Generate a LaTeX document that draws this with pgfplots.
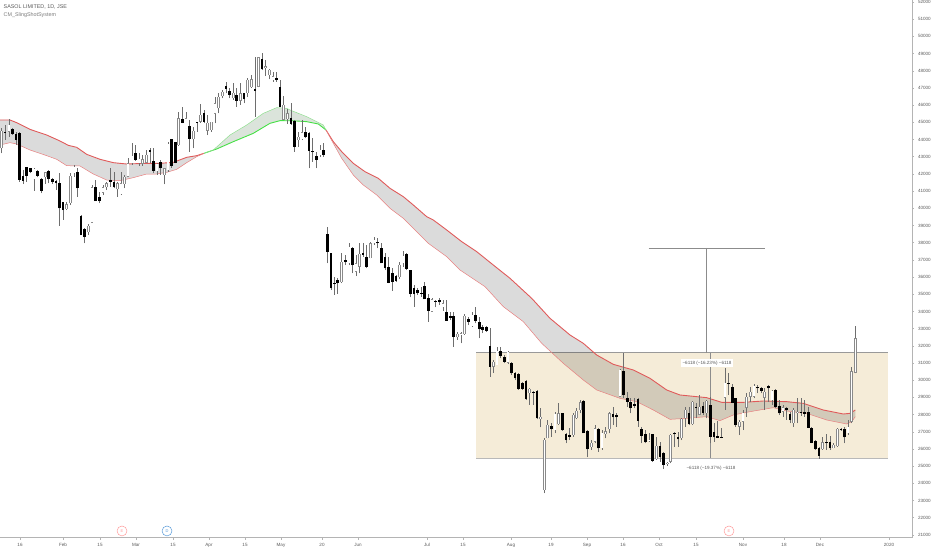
\documentclass[border=0pt]{standalone}
\usepackage{fontspec}
\setmainfont{Liberation Sans}
\usepackage{pgfplots}
\usepackage{pgfplotstable}
\pgfplotsset{compat=1.18}

\definecolor{boxbg}{HTML}{F5ECD8}
\definecolor{redline}{HTML}{E05A5A}
\definecolor{redthin}{HTML}{E88080}
\definecolor{greenline}{HTML}{45E045}
\definecolor{greenthin}{HTML}{8FE08F}
\definecolor{axisgray}{HTML}{B4B4B4}
\definecolor{txt}{HTML}{5A5A5A}
\definecolor{wick}{HTML}{6E6E6E}
\definecolor{upbody}{HTML}{8A8A8A}

% rising days: x (position on the time axis) open high low close
\pgfplotstableread{
x o h l c
1.3 43490 44650 43200 44520
9 44460 45170 44170 44850
34 41680 42320 41020 42290
45.3 41800 42130 41410 42090
66.7 39960 40380 39900 40230
70.3 40290 42030 40190 41880
74 42030 42520 41840 42420
88.3 38600 39090 38440 38990
92 39160 41350 39160 41220
103 40910 41350 40770 41220
106.7 41220 41550 41060 41450
117.3 41100 41550 40680 41450
121 40810 42130 40770 41450
124.7 41410 41940 41160 41840
128 41840 42900 41840 42610
132 42610 43820 42520 43040
139 42610 43200 42480 42870
142.7 42580 43100 42480 42850
146.3 42650 43390 42610 43120
157 42170 42610 41940 42580
164.3 41940 42360 41390 42320
168 42230 43880 42130 43740
178.7 43680 45620 43640 45230
186 44650 45620 44650 45230
193.7 44010 44750 43490 44500
200.7 45040 46050 44980 45430
207.7 44520 45430 44260 44980
211.3 44550 45040 44460 45040
215 45490 46490 44940 46110
218.7 45810 46690 45520 46490
222.3 46530 46880 46400 46780
233.3 46400 47270 46300 46730
240.3 46260 47270 46010 46690
247.7 46690 47560 46490 47460
251.3 47040 47750 46980 47500
258.3 47070 48820 47040 48780
265.7 48140 48630 47690 48270
269.3 47750 48080 47500 48040
273 47460 47950 47370 47690
283.7 45140 46550 45140 46010
287.3 45180 45760 44900 45520
298.3 43970 44460 43580 44160
302 44030 45130 43970 44420
320 43100 43680 43000 43390
341.3 35690 37380 35630 36890
349 36800 37960 36700 37770
356 36310 37280 36060 36800
359.7 36600 37960 36220 37340
370.3 37090 38060 37090 37960
374 37960 38350 37860 38160
399.3 35980 36900 35870 36700
403 36800 37540 36600 37240
432 33990 34760 33990 34700
443 34240 34670 34040 34470
457.3 32490 32820 32340 32690
461 32670 32820 32140 32730
464.7 32690 33850 32630 33750
472 33150 33990 33080 33790
493.7 30790 31170 30440 31080
497 30880 31950 30880 31720
508 31020 31720 30940 31640
529.7 29240 29530 28560 29490
540.7 27740 28360 27260 27880
544.3 23610 26620 23420 26520
547.7 26620 27690 26620 27390
555 27100 28170 26910 28030
558.7 27450 28650 27390 28070
573.3 26810 28070 26720 27980
576.7 27780 28360 27720 28230
580.3 28270 28850 28070 28710
591.3 26100 26520 25940 26370
595 26420 27390 26330 27200
602 26040 27100 25940 26950
605.7 26870 27300 26620 27040
609.3 27140 28170 26910 28070
620 29040 30630 29040 30590
649 26440 26950 26420 26520
656.3 25400 26680 25360 26170
667.3 25120 25260 25010 25200
670.7 25260 26870 25160 26830
681.7 26620 27780 26520 27760
685.3 27780 28460 27300 28270
692.7 27450 28790 27390 28750
699.3 27980 29140 27980 28460
706.7 28070 28850 27780 28810
725 28980 30730 28270 29860
739.3 27300 27680 26810 27570
743 27590 28270 27100 28110
746.7 28400 29230 27880 29040
750.3 29040 29620 28750 29310
754 29040 29780 28940 29680
764.7 28980 29530 28270 29310
772 28850 29430 28560 29390
783 28170 28560 27880 28420
793.7 27490 28360 27300 28270
797.3 28070 28940 27490 28170
822.7 25980 26710 25940 26390
833.7 26060 26330 26040 26250
837.3 26170 27200 26130 27160
848 26910 27680 26810 27300
851.7 27590 30790 27490 30530
855.3 30440 33150 30400 32440
}\upc

% falling days
\pgfplotstableread{
x o h l c
5 44440 44850 43970 44360
12.7 44590 44650 44260 44320
16 44300 44460 43680 43970
19.7 44400 44440 41550 41650
23 41900 42230 41410 41610
26.7 42380 42420 41550 41880
30.3 42320 42360 42030 42110
37.7 42150 42230 41800 41880
41.7 41700 41740 40870 41020
48.7 42190 42230 41450 41680
52.3 41720 41780 41410 41530
56 41570 41650 41060 41450
59.7 41490 42030 38970 40000
63 40370 40380 39320 39900
77.7 42090 42360 40680 41160
81 39570 39610 38440 38440
84.7 38790 38830 37960 38350
95.7 41220 41650 40420 40420
99.3 40680 40970 40290 40420
110.3 41650 42320 41260 41550
114 41510 42130 41160 41220
135.3 43240 43680 42770 42810
150 43390 43530 42610 43270
153.3 42730 43490 42030 42190
160.7 42710 42810 41940 42320
171.7 44010 44010 42360 42460
175.3 43880 43880 42610 42650
182.3 45190 45870 44940 44980
189.7 44790 45140 43290 44050
197 45040 45040 44460 44980
204 45560 45720 44940 45040
226 47110 47370 46690 46960
229.7 46840 46980 46400 46590
236.7 46590 46980 45910 46260
244 46690 46690 46100 46340
255 46940 48820 45330 46840
262 48680 49010 48040 48080
276.3 47560 47950 47370 47460
280 47040 47460 45870 45870
291 45250 46110 44850 44900
294.7 45080 45130 43290 43580
305.3 44460 44750 44070 44130
309 44360 44420 42320 43350
312.7 43350 44070 42710 43290
316.3 43040 43290 42320 42810
323.3 43390 43780 43000 43100
327.3 38490 38930 36800 37480
331 37420 37420 35250 35340
334.3 35670 36020 34960 35600
337.7 35830 35930 35020 35630
345.3 36990 37280 36700 36860
352.3 37690 37770 36220 36700
363 37380 38000 37190 37300
366.7 37190 37860 36510 36600
377.7 38040 38250 37670 37960
381.3 37710 37960 36800 36800
385 37190 37380 36410 36510
388.7 36600 37190 35630 35670
392.3 36220 36510 35210 35730
396 36060 36120 35730 35790
406.7 37340 37380 36410 36470
410.3 36410 36410 34820 35010
414 35380 35540 34280 35010
417.7 35250 35340 34960 35050
421.3 35090 35440 34860 35010
424.7 35480 35690 34700 34700
428.3 34760 35010 33400 34040
435.7 34600 34670 34240 34570
439.3 34670 34760 34380 34530
446.7 33990 34670 33460 33460
450.3 33730 33990 33500 33640
453.7 33730 33990 31950 32530
468.3 33540 33690 33210 33400
475.7 33790 34240 33310 33440
479.3 33370 33690 32440 32960
482.7 33080 33210 32730 32920
486.3 33080 33150 32820 32880
490 31990 33020 30200 30790
500.7 31720 31950 31270 31430
504.3 31370 31470 30980 31080
511.3 30980 31080 30300 30400
515 30400 30500 30010 30110
518.7 30360 30400 29430 29470
522.3 29860 29920 29430 29490
526 29970 30010 28850 28890
533.3 29330 29390 28560 29270
537 29390 29430 27720 27780
551.3 27360 27490 26720 27140
562.3 28070 28110 27060 27100
566 26870 26910 26330 26520
569.7 26810 27200 26520 26720
583.7 28790 28850 26910 26910
587.7 27040 27100 25510 25980
598.3 27140 27200 25840 26030
613 28030 28460 27390 27840
616.7 27980 28070 27300 27840
623.7 30550 31560 28940 29140
627.3 28940 29330 28460 28750
630.7 28750 28940 28070 28360
634.3 28620 28940 28360 28520
638 28890 28940 27300 27650
641.7 27160 27300 26330 26770
645.3 26870 27100 26330 26390
652.7 26850 26870 25260 25320
660 26170 26420 25260 25550
663.7 25750 25840 24820 25070
674.3 26950 27010 26130 26850
678 26680 27010 26130 26560
689 28070 28460 27390 27430
696 28460 28650 27780 28360
703 28500 28750 27980 28110
710.3 28560 29040 26330 26710
714 26970 27490 26420 26680
717.7 26750 27630 26620 26640
721.3 26710 27200 26620 26660
728.7 29860 30400 29140 29780
732.3 29590 29780 28650 28690
735.7 28940 28940 27300 27390
757.7 29620 29720 29230 29530
761.3 29530 29620 29230 29370
768.3 29660 29720 28750 29530
775.7 29430 29470 28360 28420
779.3 28500 28850 27970 28070
786.3 28360 28460 27690 28270
790 28030 28170 27490 27680
801 28170 28980 27920 28070
804.7 28170 28850 27880 28030
808.3 28130 28460 27200 27240
811.7 27240 27300 26330 26370
815.3 26460 26520 25940 25980
819 26070 26130 25420 25610
826.3 26420 26850 25940 26330
830 26420 26750 25940 26040
841 27160 27200 27060 27100
844.3 27140 27300 26330 26680
}\dnc

\begin{document}
\begin{tikzpicture}
\begin{axis}[
	at={(0,0)}, anchor=south west,
	scale only axis, width=912bp, height=537.5bp,
	xmin=0, xmax=912, ymin=20850, ymax=52116,
	axis x line*=bottom, axis y line*=right,
	axis line style={axisgray, line width=1pt},
	xtick={20,63,100,136,173,209,245,281,322,358,427,463,511,551,587,623,659,696,743,784,820,889},
	xticklabels={16,Feb,15,Mar,15,Apr,15,May,20,Jun,Jul,15,Aug,19,Sep,16,Oct,15,Nov,18,Dec,2020},
	ytick distance=1000,
	scaled y ticks=false,
	tick align=outside, major tick length=2bp,
	tick style={axisgray, line width=0.5pt},
	/pgf/number format/assume math mode=true,
	/pgf/number format/set thousands separator={},
	ticklabel style={font=\fontsize{4.6}{5}\selectfont, text=txt},
	yticklabel style={xshift=0.5bp},
	xticklabel style={yshift=-0.5bp},
]
% range box
\addplot[fill=boxbg, draw=none, forget plot] coordinates {(476,31600)(887.7,31600)(887.7,25450)(476,25450)} -- cycle;
\addplot[gray!80, line width=0.6pt, forget plot] coordinates {(476,31600)(887.7,31600)};
\addplot[gray!55, line width=0.8pt, forget plot] coordinates {(476,25450)(887.7,25450)};

% bands between the two averages
\addplot[fill=black, fill opacity=0.14, draw=none] coordinates {(0,45136)(10,45136)(16.7,44980)(30,44590)(46.7,44263)(60,43914)(68.3,43662)(76.7,43546)(86.7,43138)(100,42848)(113.3,42654)(126.7,42576)(146.7,42615)(160,42615)(173.3,42673)(186.7,42964)(196.7,43061)(204,43197)(196.7,43003)(186.7,42654)(176.7,42266)(166.7,42091)(156.7,41994)(146.7,41994)(133.3,41781)(120,41607)(106.7,41645)(93.3,41994)(80,42460)(66.7,42479)(56.7,42848)(46.7,43061)(30,43391)(16.7,43740)(10,43817)(0,43681)} -- cycle;
\addplot[fill=black!75!green, fill opacity=0.14, draw=none] coordinates {(204,43197)(216.7,43449)(233.3,43875)(253.3,44360)(270,44942)(280,45097)(293.3,45090)(306.7,45039)(318.3,44903)(326,44554)(323.3,44845)(306.7,45330)(290,45717)(286.7,45814)(276.7,45853)(263.3,45523)(246.7,44845)(230,44263)(213.3,43390)} -- cycle;
\addplot[fill=black, fill opacity=0.14, draw=none] coordinates {(326,44554)(333.3,43875)(341.7,43294)(353.3,42615)(365,42130)(378.3,41742)(390,41161)(403.3,40676)(413.3,40191)(426.7,39512)(433.3,39319)(446.7,38737)(461.7,38059)(476.7,37477)(493.3,36701)(510,35926)(531.7,34762)(550,33599)(570,32629)(583.3,32145)(596.7,31466)(613.3,30923)(633.3,30593)(650,30108)(666.7,29430)(680,29139)(706.7,28984)(721.7,28712)(743.3,28712)(763.3,28790)(786.7,28751)(803.3,28654)(823.3,28266)(843.3,28034)(850,28072)(855.3,28266)(855.3,27879)(851.7,27588)(846.7,27452)(826.7,27685)(806.7,28072)(786.7,28208)(773.3,28402)(750,28169)(733.3,27976)(720,27646)(706.7,27879)(686.7,27782)(670,27723)(653.3,28266)(636.7,28751)(620,28945)(596.7,29430)(583.3,30012)(563.3,30981)(541.7,32145)(523.3,33405)(503.3,34278)(485,35441)(460,36411)(446.7,37186)(428.3,37962)(416.7,38640)(403.3,39416)(390,39997)(376.7,40773)(363.3,41355)(353.3,41936)(341.7,42906)(333.3,43778)} -- cycle;

% averages, first red stretch
\addplot[redline, line width=0.9pt] coordinates {(0,45136)(10,45136)(16.7,44980)(30,44590)(46.7,44263)(60,43914)(68.3,43662)(76.7,43546)(86.7,43138)(100,42848)(113.3,42654)(126.7,42576)(146.7,42615)(160,42615)(173.3,42673)(186.7,42964)(196.7,43061)(204,43197)};
\addplot[redthin, line width=0.5pt] coordinates {(0,43681)(10,43817)(16.7,43740)(30,43391)(46.7,43061)(56.7,42848)(66.7,42479)(80,42460)(93.3,41994)(106.7,41645)(120,41607)(133.3,41781)(146.7,41994)(156.7,41994)(166.7,42091)(176.7,42266)(186.7,42654)(196.7,43003)(204,43197)};

% green stretch
\addplot[greenline, line width=0.9pt] coordinates {(204,43197)(216.7,43449)(233.3,43875)(253.3,44360)(270,44942)(280,45097)(293.3,45090)(306.7,45039)(318.3,44903)(326,44554)};
\addplot[greenthin, line width=0.5pt] coordinates {(204,43197)(213.3,43390)(230,44263)(246.7,44845)(263.3,45523)(276.7,45853)(286.7,45814)(290,45717)(306.7,45330)(323.3,44845)(326,44554)};

% second red stretch
\addplot[redline, line width=0.9pt] coordinates {(326,44554)(333.3,43875)(341.7,43294)(353.3,42615)(365,42130)(378.3,41742)(390,41161)(403.3,40676)(413.3,40191)(426.7,39512)(433.3,39319)(446.7,38737)(461.7,38059)(476.7,37477)(493.3,36701)(510,35926)(531.7,34762)(550,33599)(570,32629)(583.3,32145)(596.7,31466)(613.3,30923)(633.3,30593)(650,30108)(666.7,29430)(680,29139)(706.7,28984)(721.7,28712)(743.3,28712)(763.3,28790)(786.7,28751)(803.3,28654)(823.3,28266)(843.3,28034)(850,28072)(855.3,28266)};
\addplot[redthin, line width=0.5pt] coordinates {(326,44554)(333.3,43778)(341.7,42906)(353.3,41936)(363.3,41355)(376.7,40773)(390,39997)(403.3,39416)(416.7,38640)(428.3,37962)(446.7,37186)(460,36411)(485,35441)(503.3,34278)(523.3,33405)(541.7,32145)(563.3,30981)(583.3,30012)(596.7,29430)(620,28945)(636.7,28751)(653.3,28266)(670,27723)(686.7,27782)(706.7,27879)(720,27646)(733.3,27976)(750,28169)(773.3,28402)(786.7,28208)(806.7,28072)(826.7,27685)(846.7,27452)(851.7,27588)(855.3,27879)};

% measuring lines
\addplot[gray!90, line width=0.5pt] coordinates {(648.7,37700)(764.7,37700)};
\addplot[gray!90, line width=0.5pt] coordinates {(706.7,37700)(706.7,31600)};
\addplot[gray!90, line width=0.5pt] coordinates {(710.3,31600)(710.3,25450)};

% wicks
\addplot[draw=none, mark=none, error bars/.cd, y dir=plus, y explicit, error mark=none, error bar style={line width=0.6bp, draw=wick}]
	table[x=x, y=l, y error plus expr=\thisrow{h}-\thisrow{l}] {\upc};
\addplot[draw=none, mark=none, error bars/.cd, y dir=plus, y explicit, error mark=none, error bar style={line width=0.6bp, draw=wick}]
	table[x=x, y=l, y error plus expr=\thisrow{h}-\thisrow{l}] {\dnc};
% bodies
\addplot[draw=none, mark=none, error bars/.cd, y dir=plus, y explicit, error mark=none, error bar style={line width=2.8bp, draw=black}]
	table[x=x, y=c, y error plus expr=\thisrow{o}-\thisrow{c}] {\dnc};
\addplot[draw=none, mark=none, error bars/.cd, y dir=plus, y explicit, error mark=none, error bar style={line width=2.8bp, draw=upbody}]
	table[x=x, y=o, y error plus expr=\thisrow{c}-\thisrow{o}] {\upc};
\addplot[draw=none, mark=none, error bars/.cd, y dir=plus, y explicit, error mark=none, error bar style={line width=1.3bp, draw=white}]
	table[x=x, y expr=\thisrow{o}+25, y error plus expr={max(\thisrow{c}-\thisrow{o}-50,0)}] {\upc};

% event markers
\addplot[only marks, mark=o, mark size=5pt, mark options={line width=0.5pt}, color=pink!80!red] coordinates {(122,21230)(729,21230)};
\addplot[only marks, mark=o, mark size=5pt, mark options={line width=0.5pt}, color=cyan!60!blue!70!white] coordinates {(167,21230)};
\node[font=\fontsize{4}{5}\selectfont, text=pink!80!red] at (axis cs:122,21230) {E};
\node[font=\fontsize{4}{5}\selectfont, text=cyan!60!blue!70!white] at (axis cs:167,21230) {D};
\node[font=\fontsize{4}{5}\selectfont, text=pink!80!red] at (axis cs:729,21230) {E};

% labels
\node[fill=white, inner xsep=2bp, inner ysep=1.5bp, font=\fontsize{4.6}{5}\selectfont, text=txt] at (axis cs:707,31000) {−6118 (−16.23\%) −6118};
\node[font=\fontsize{4.6}{5}\selectfont, text=txt] at (axis cs:711,24850) {−6118 (−19.37\%) −6118};
\node[anchor=west, inner sep=0pt, font=\fontsize{5.4}{6}\selectfont, text=txt] at (axis cs:3.5,51710) {SASOL LIMITED, 1D, JSE};
\node[anchor=west, inner sep=0pt, font=\fontsize{5.4}{6}\selectfont, text=txt!80] at (axis cs:3.5,51220) {CM\_SlingShotSystem};
\end{axis}
\pgfresetboundingbox
\path[use as bounding box] (0,-12.5bp) rectangle (932bp,537.5bp);
\end{tikzpicture}
\end{document}
